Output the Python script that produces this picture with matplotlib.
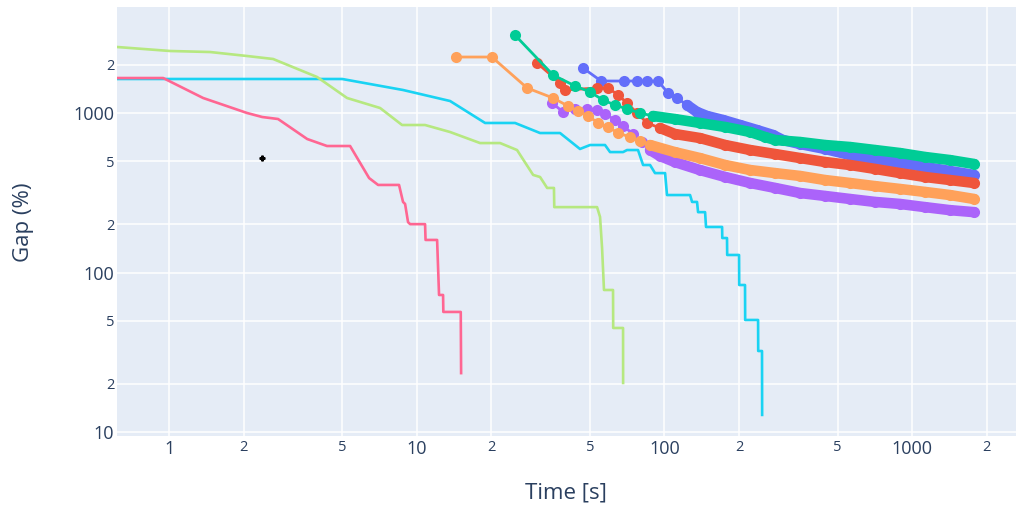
import matplotlib
matplotlib.use("Agg")
import matplotlib.pyplot as plt
from matplotlib.ticker import NullLocator

plt.rcParams['font.family'] = ['Open Sans', 'DejaVu Sans']

# --- runs with markers (plotly default colour order) ---
blue_t = [46.9, 55.5, 68.7, 77.5, 85.1, 94.2, 103.4, 112.4, 123.4, 135.4, 148.6,
          172.5, 202, 236.5, 274.4, 301, 353, 445, 562, 709, 894, 1128, 1422, 1780]
blue_g = [1915, 1587, 1587, 1587, 1587, 1587, 1335, 1242, 1122, 1015, 958,
          904, 841, 782, 728, 677, 639, 595, 545, 515, 486, 459, 433, 409]

red_t = [30.6, 37.9, 39.7, 53.5, 59.2, 65.0, 70.6, 77.5, 85.1, 96.0, 110, 139, 176,
         222, 280, 353, 445, 562, 709, 894, 1128, 1422, 1780]
red_g = [2058, 1542, 1394, 1435, 1435, 1297, 1155, 1000, 866, 805, 739, 697, 630,
         586, 553, 522, 493, 472, 446, 420, 397, 380, 364]

green_t = [24.9, 35.5, 43.6, 50.1, 56.5, 63.2, 70.6, 79.7, 89.9, 110, 139, 176, 222,
           254.8, 280, 353, 445, 562, 709, 894, 1128, 1422, 1780]
green_g = [3083, 1731, 1477, 1354, 1206, 1122, 1060, 1000, 958, 917, 866, 817, 760,
           707, 677, 658, 630, 612, 586, 561, 530, 507, 479]

purple_t = [35.2, 39.0, 43.6, 48.7, 53.5, 57.6, 63.2, 68.1, 74.7, 81.2, 87.5, 96.0,
            110, 139, 176, 222, 280, 353, 445, 562, 709, 894, 1128, 1422, 1780]
purple_g = [1155, 1015, 1060, 1060, 1044, 986, 904, 829, 739, 658, 586, 537,
            493, 439, 397, 364, 339, 315, 302, 289, 277, 269, 257, 246, 239]

orange_t = [14.4, 20.1, 27.9, 35.5, 40.8, 44.8, 49.2, 54.0, 59.2, 65.0, 72.6, 79.7,
            87.5, 110, 139, 176, 222, 280, 353, 445, 562, 709, 894, 1128, 1422, 1780]
orange_g = [2244, 2244, 1435, 1242, 1106, 1029, 958, 866, 817, 749, 707, 667,
            630, 569, 522, 472, 439, 420, 403, 380, 364, 348, 334, 320, 306, 289]

# --- runs drawn as lines only ---
cyan_t = [0.617, 5.0, 8.8, 13.63, 18.87, 24.94, 31.46, 37.88, 45.6, 50.08, 57.56,
          60.3, 68.06, 70.6, 78.2, 82.0, 87.5, 91.6, 100.6, 102.4, 126.9, 129.3,
          135.4, 136.7, 145.9, 147.2, 170.9, 171.2, 178.9, 179.2, 200.1, 200.4,
          211.5, 211.8, 238.8, 239.1, 247.7, 248]
cyan_g = [1634, 1634, 1394, 1189, 866, 866, 749, 749, 595, 630, 630,
          569, 569, 586, 586, 472, 472, 420, 420, 306, 306, 277,
          277, 239, 239, 193, 193, 164.5, 164.5, 128.8, 128.8, 83.5,
          83.5, 50.4, 50.4, 32.2, 32.2, 12.8]

pink_t = [0.617, 0.946, 1.372, 2.065, 2.375, 2.754, 3.61, 4.34, 5.38, 6.42, 6.98,
          8.48, 8.80, 8.97, 9.22, 9.40, 10.80, 10.85, 12.08, 12.30, 12.77, 12.80,
          15.05, 15.1]
pink_g = [1657, 1657, 1242, 1000, 944, 917, 687, 621, 621, 391, 354,
          354, 277, 269, 207, 201, 201, 160, 160, 72.3, 72.3, 56.6,
          56.6, 23.4]

lgreen_t = [0.617, 1.009, 1.464, 2.065, 2.63, 3.96, 5.23, 7.11, 8.72, 10.80, 13.63,
            18.01, 21.7, 25.4, 29.5, 31.46, 33.6, 35.8, 35.9, 53.45, 54.95, 56.0,
            57.0, 62.0, 62.1, 68.06, 68.1]
lgreen_g = [2593, 2448, 2412, 2277, 2181, 1681, 1242, 1075, 841, 841, 760,
            648, 648, 586, 409, 397, 339, 339, 257, 257, 223, 142,
            77.7, 77.7, 44.9, 44.9, 20.3]

cursor_t = [2.375]
cursor_g = [522]

xticks = [1, 2, 5, 10, 20, 50, 100, 200, 500, 1000, 2000]
xlabels = ['1', '2', '5', '10', '2', '5', '100', '2', '5', '1000', '2']
yticks = [10, 20, 50, 100, 200, 500, 1000, 2000]
ylabels = ['10', '2', '5', '100', '2', '5', '1000', '2']

W, H = 1016, 507
fig = plt.figure(figsize=(W / 100, H / 100), dpi=100)
ax = fig.add_axes([117 / W, 1 - 436 / H, 1 - 117 / W, (436 - 7) / H])
ax.set_facecolor('#E5ECF6')
ax.set_xscale('log')
ax.set_yscale('log')

ms = 8.0
marker_runs = [
    (blue_t, blue_g, '#636EFA', 120),
    (red_t, red_g, '#EF553B', 90),
    (green_t, green_g, '#00CC96', 85),
    (purple_t, purple_g, '#AB63FA', 85),
    (orange_t, orange_g, '#FFA15A', 85),
]
for t, g, c, dense in marker_runs:
    ax.plot(t, g, color=c, lw=2, marker='o', ms=ms, mew=0)
    # the late part of these runs is so dense the markers merge into a band
    tt = [a for a in t if a >= dense]
    gg = [b for a, b in zip(t, g) if a >= dense]
    ax.plot(tt, gg, color=c, lw=ms * 0.95, solid_capstyle='round',
            solid_joinstyle='round')

for t, g, c in [(cyan_t, cyan_g, '#19D3F3'), (pink_t, pink_g, '#FF6692'),
                (lgreen_t, lgreen_g, '#B6E880')]:
    ax.plot(t, g, color=c, lw=1.9)

ax.plot(cursor_t, cursor_g, marker='P', color='black', ms=3.5, ls='none')

ax.set_xlim(0.616, 2627)
ax.set_ylim(9.44, 4620)
ax.set_xticks(xticks, xlabels)
ax.set_yticks(yticks, ylabels)
ax.xaxis.set_minor_locator(NullLocator())
ax.yaxis.set_minor_locator(NullLocator())
ax.tick_params(length=0, colors='#2a3f5f', labelsize=13)
ax.tick_params(axis='x', pad=3)
ax.tick_params(axis='y', pad=2)
for tick in ax.xaxis.get_major_ticks() + ax.yaxis.get_major_ticks():
    if tick.label1.get_text() in ('2', '5'):
        tick.label1.set_fontsize(10.5)
ax.grid(True, color='white', lw=1.1)
ax.set_axisbelow(True)
for s in ax.spines.values():
    s.set_visible(False)

fig.text(566 / W, 1 - 493 / H, 'Time [s]', ha='center', va='center',
         fontsize=16, color='#2a3f5f')
fig.text(24 / W, 1 - 222 / H, 'Gap (%)', ha='center', va='center',
         rotation=90, fontsize=16, color='#2a3f5f')

fig.savefig('out.png', dpi=100, facecolor='white')
